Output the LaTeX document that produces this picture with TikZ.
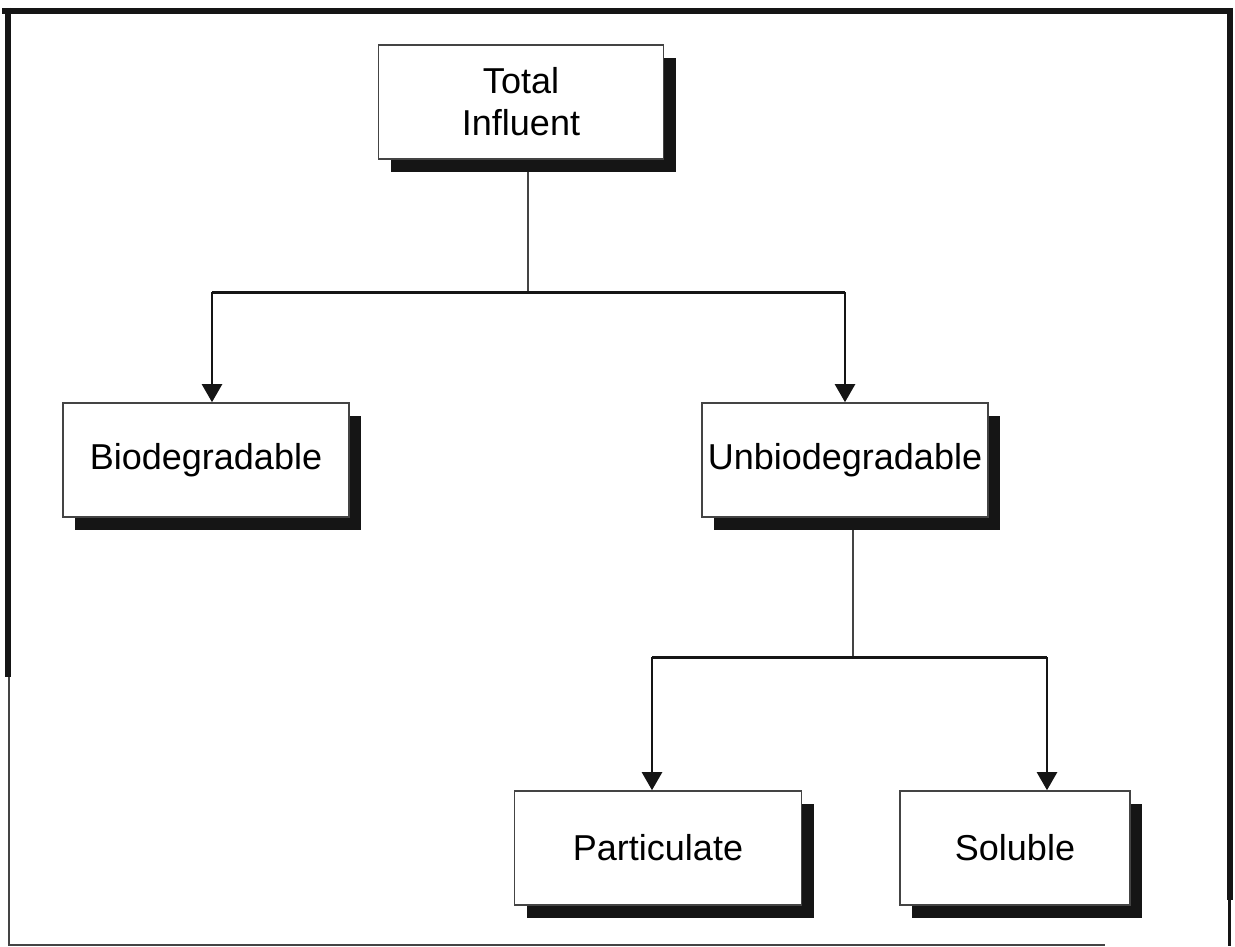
\documentclass[tikz,border=0pt]{standalone}
\usepackage{fontspec}
\setmainfont{Liberation Sans}
\usetikzlibrary{arrows.meta,shadows,backgrounds}
\definecolor{ink}{HTML}{151515}
\definecolor{rule}{HTML}{444444}

\tikzset{
  x=1pt, y=-1pt,
  box/.style={draw=rule, line width=1.6pt, fill=white, inner sep=0pt,
    minimum height=114pt, align=center,
    font=\fontsize{36}{42}\selectfont,
    drop shadow={shadow xshift=12pt, shadow yshift=-13pt, fill=ink, opacity=1}},
  bus/.style={draw=ink, line width=3pt},
  stem/.style={draw=rule, line width=1.4pt},
  drop/.style={draw=ink, line width=2.4pt,
    -{Triangle[width=20pt,length=18pt]}},
  frame/.style={draw=ink, line width=6pt},
  thin frame/.style={draw=rule, line width=2pt},
}

\begin{document}
\begin{tikzpicture}
\useasboundingbox (0,0) rectangle (1235,947);

% outer border of the sheet
\draw[frame] (2,11) -- (1233,11);
\draw[frame] (7.5,8) -- (7.5,677);
\draw[thin frame] (9,677) -- (9,945) -- (1105,945);
\draw[frame] (1229.5,8) -- (1229.5,900);
\draw[draw=ink, line width=3pt] (1229.5,900) -- (1229.5,946);

% classification boxes
\node[box, minimum width=285pt] (tot) at (521,102) {Total\\Influent};
\node[box, minimum width=286pt] (bio) at (206,460) {\raisebox{-4pt}{Biodegradable}};
\node[box, minimum width=286pt] (unb) at (845,460) {\raisebox{-2pt}{Unbiodegradable}};
\node[box, minimum width=287pt] (par) at (658,848) {Particulate};
\node[box, minimum width=230pt] (sol) at (1015,848) {Soluble};

% branch points
\coordinate (t0) at (528,292);
\coordinate (tl) at (212,292);
\coordinate (tr) at (845,292);
\coordinate (u0) at (853,657);
\coordinate (ul) at (652,657);
\coordinate (ur) at (1047,657);

\begin{pgfonlayer}{background}
  \draw[stem] (tot.south -| t0) -- (t0);
  \draw[bus] (tl) -- (tr);
  \draw[drop] (tl) -- (bio.north -| tl);
  \draw[drop] (tr) -- (unb.north -| tr);
  \draw[stem] (unb.south -| u0) -- (u0);
  \draw[bus] (ul) -- (ur);
  \draw[drop] (ul) -- (par.north -| ul);
  \draw[drop] (ur) -- (sol.north -| ur);
\end{pgfonlayer}
\end{tikzpicture}
\end{document}
